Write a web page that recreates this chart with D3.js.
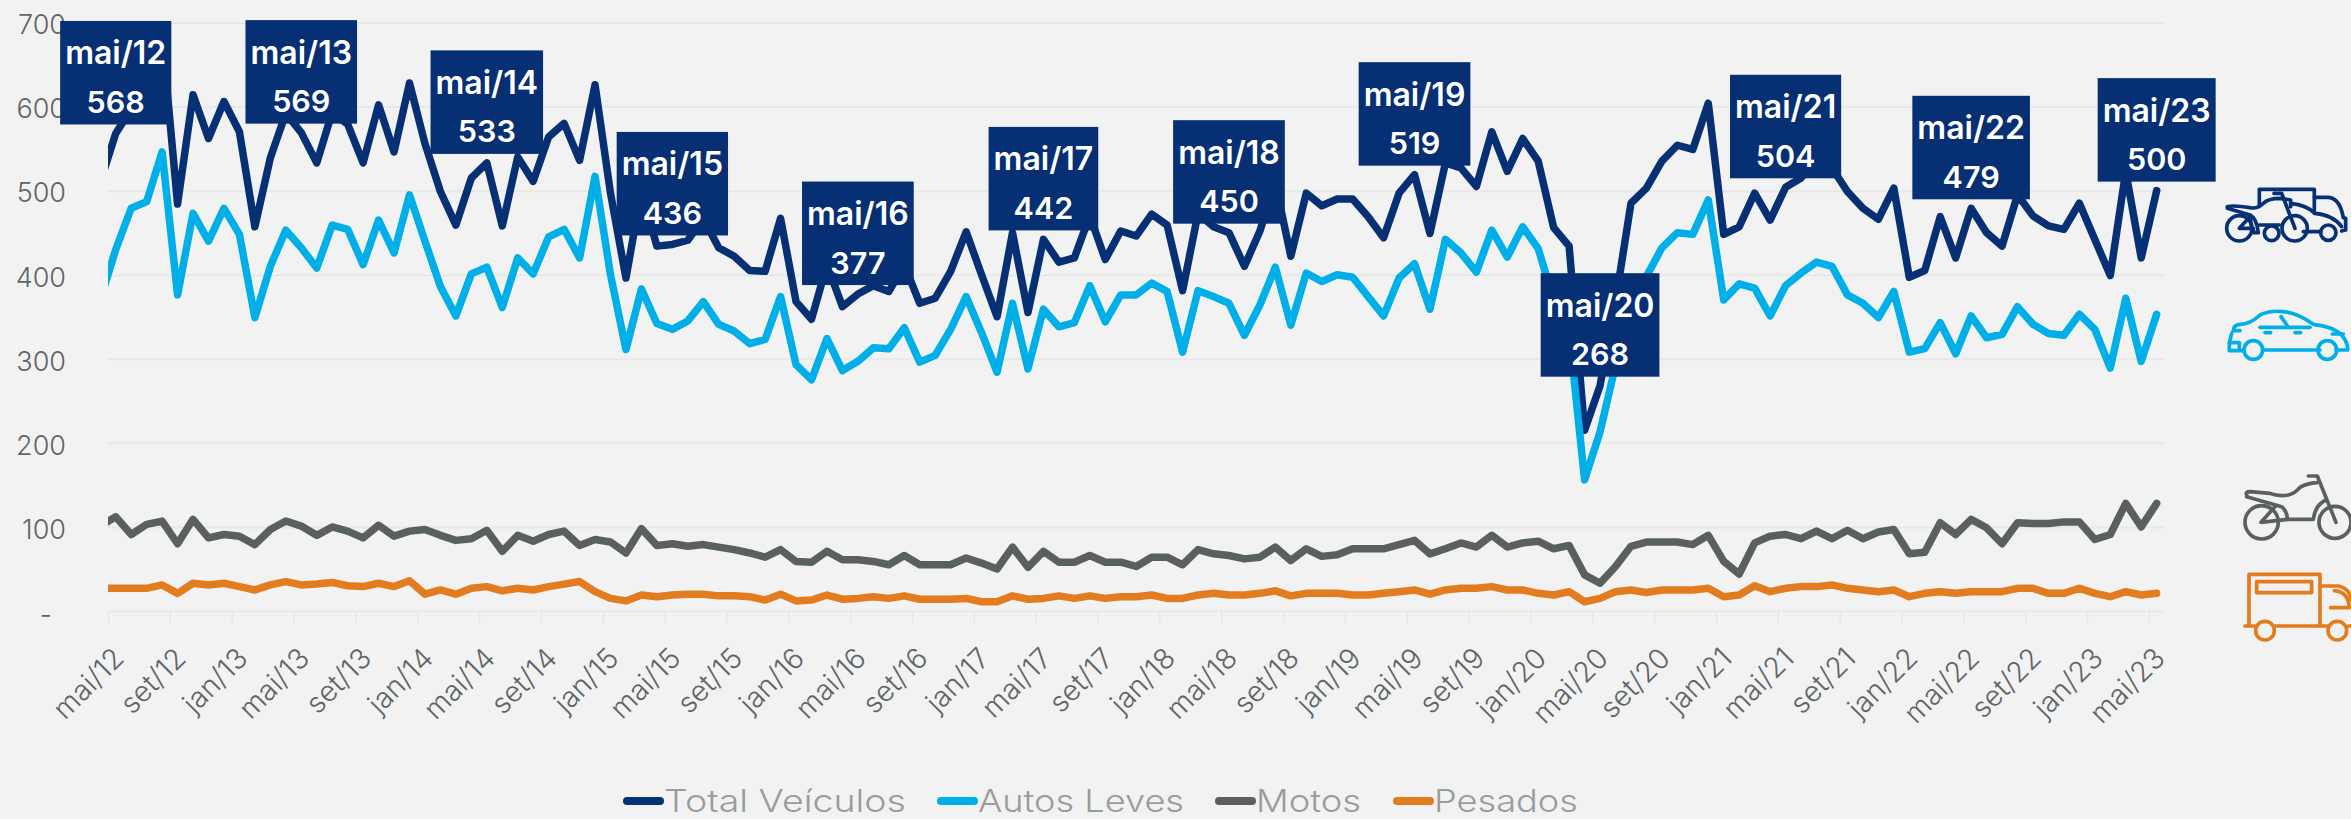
<!DOCTYPE html>
<html lang="pt"><head><meta charset="utf-8"><title>Veículos</title>
<script src="https://cdn.jsdelivr.net/npm/d3@7"></script>
<style>
html,body{margin:0;padding:0;background:#f2f2f2;overflow:hidden}
svg{display:block}
text{font-family:Inter,"Noto Sans",sans-serif}
</style></head><body><svg id="c" width="2351" height="819"></svg>
<script>
const categories=["abr/12",
"mai/12","jun/12","jul/12","ago/12","set/12","out/12","nov/12","dez/12",
"jan/13","fev/13","mar/13","abr/13","mai/13","jun/13","jul/13","ago/13","set/13","out/13","nov/13","dez/13",
"jan/14","fev/14","mar/14","abr/14","mai/14","jun/14","jul/14","ago/14","set/14","out/14","nov/14","dez/14",
"jan/15","fev/15","mar/15","abr/15","mai/15","jun/15","jul/15","ago/15","set/15","out/15","nov/15","dez/15",
"jan/16","fev/16","mar/16","abr/16","mai/16","jun/16","jul/16","ago/16","set/16","out/16","nov/16","dez/16",
"jan/17","fev/17","mar/17","abr/17","mai/17","jun/17","jul/17","ago/17","set/17","out/17","nov/17","dez/17",
"jan/18","fev/18","mar/18","abr/18","mai/18","jun/18","jul/18","ago/18","set/18","out/18","nov/18","dez/18",
"jan/19","fev/19","mar/19","abr/19","mai/19","jun/19","jul/19","ago/19","set/19","out/19","nov/19","dez/19",
"jan/20","fev/20","mar/20","abr/20","mai/20","jun/20","jul/20","ago/20","set/20","out/20","nov/20","dez/20",
"jan/21","fev/21","mar/21","abr/21","mai/21","jun/21","jul/21","ago/21","set/21","out/21","nov/21","dez/21",
"jan/22","fev/22","mar/22","abr/22","mai/22","jun/22","jul/22","ago/22","set/22","out/22","nov/22","dez/22",
"jan/23","fev/23","mar/23","abr/23","mai/23"];
const totalVeiculos=[510,568,597,617,684,484,614,562,606,570,457,539,592,569,533,593,579,533,602,546,628,556,499,459,515,533,458,540,511,564,580,536,626,497,396,500,434,436,441,467,432,422,405,404,467,368,347,412,362,377,387,380,412,366,372,404,451,400,350,450,355,442,415,420,470,418,452,446,472,459,381,473,457,450,410,452,509,422,497,482,490,490,469,444,497,519,449,533,527,505,570,523,562,535,456,434,215,268,368,485,503,535,554,549,604,448,457,497,465,504,515,539,527,499,479,466,503,397,405,469,420,479,450,434,495,470,458,454,485,442,399,523,420,500];
const autosLeves=[370,430,479,487,546,376,473,440,479,448,349,410,453,432,408,459,454,412,465,426,495,440,386,351,401,409,361,420,401,445,454,420,517,400,311,383,342,335,345,368,341,333,318,323,374,293,275,324,286,297,313,312,337,296,304,335,374,331,284,366,288,359,338,343,387,344,376,376,390,380,308,381,374,366,328,364,409,340,402,392,400,397,374,351,396,413,359,442,426,403,453,421,457,431,370,333,156,213,292,385,398,432,450,448,489,370,389,384,351,387,402,415,410,376,366,349,380,308,312,343,306,351,325,329,362,341,330,328,353,335,289,372,297,353];
const motos=[101,112,91,103,107,80,109,87,91,89,79,97,107,101,90,100,95,87,102,89,95,97,90,84,86,96,71,90,83,91,95,78,85,82,69,98,78,80,77,79,76,73,69,64,73,59,58,71,61,61,59,55,66,55,55,55,63,57,50,76,52,71,58,58,66,58,58,53,64,64,55,73,68,66,62,64,76,60,74,65,67,74,74,74,79,84,68,74,81,76,90,76,81,83,74,78,43,33,53,77,82,82,82,79,90,59,44,81,89,91,86,95,86,96,86,94,97,68,70,105,91,109,99,80,105,104,104,106,106,85,91,128,100,128];
const pesados=[27,27,27,27,31,21,33,31,33,29,25,31,35,31,32,34,30,29,33,29,36,20,25,20,27,29,24,27,25,29,32,35,23,15,12,19,17,19,20,20,18,18,17,13,20,12,13,19,14,15,17,15,18,14,14,14,15,11,11,18,14,15,18,15,18,15,17,17,19,15,15,19,21,19,19,21,24,18,21,21,21,19,19,21,23,25,20,25,27,27,29,25,25,21,19,23,11,15,23,25,22,25,25,25,27,17,19,30,23,27,29,29,31,27,25,23,25,17,21,23,21,23,23,23,27,27,21,21,27,21,17,23,19,21];
const seriesNames=["Total Veículos","Autos Leves","Motos","Pesados"];
const seriesColors=["#063073","#00afe8","#5a6060","#e37c1e"];
const tickLabels=["mai/12","set/12","jan/13","mai/13","set/13","jan/14","mai/14","set/14","jan/15","mai/15","set/15","jan/16","mai/16","set/16","jan/17","mai/17","set/17","jan/18","mai/18","set/18","jan/19","mai/19","set/19","jan/20","mai/20","set/20","jan/21","mai/21","set/21","jan/22","mai/22","set/22","jan/23","mai/23"];
const yTicks=[0,100,200,300,400,500,600,700];
const calloutMonths=["mai/12","mai/13","mai/14","mai/15","mai/16","mai/17","mai/18","mai/19","mai/20","mai/21","mai/22","mai/23"];

const svg=d3.select("#c");
const plotL=108,plotR=2164.4,yZero=611,yTop=22.5;
const step=(plotR-plotL)/133;
const x=d3.scalePoint().domain(categories).range([plotL-step/2,plotR-step/2]);
const xEdge=d3.scalePoint().domain(categories).range([plotL-step,plotR-step]);
const y=d3.scaleLinear().domain([0,700]).range([yZero,yTop]);

svg.append("defs").append("clipPath").attr("id","plot").append("rect")
  .attr("x",plotL).attr("y",0).attr("width",plotR-plotL+40).attr("height",819);

// grid + y axis
const gy=svg.append("g").attr("transform",`translate(${plotL},0)`)
  .call(d3.axisLeft(y).tickValues(yTicks).tickSize(-(plotR-plotL)).tickPadding(42).tickFormat(d=>d===0?"-":String(d)));
gy.select(".domain").remove();
gy.selectAll("line").attr("stroke","#e8e8e8").attr("stroke-width",2);
gy.selectAll("text").attr("fill","#5f6566").attr("font-size",27).attr("font-weight",300).attr("dy","0.42em")
  .filter(d=>d===0).attr("dx",-14).attr("dy","0.46em");

// x axis
const gx=svg.append("g").attr("transform",`translate(0,${yZero})`)
  .call(d3.axisBottom(xEdge).tickValues(tickLabels).tickSize(12).tickFormat(""));
gx.select(".domain").remove();
gx.selectAll("line").attr("stroke","#e6e6e6").attr("stroke-width",1.5);
svg.append("g").selectAll("text").data(tickLabels).join("text")
  .attr("transform",d=>`translate(${x(d)+10},660) rotate(-45)`)
  .attr("text-anchor","end").attr("fill","#5f6566").attr("font-size",28.5).attr("font-weight",300).text(d=>d);

// lines
const line=d3.line().x((d,i)=>x(categories[i])).y(d=>y(d)).curve(d3.curveLinear);
svg.append("g").attr("clip-path","url(#plot)").selectAll("path")
  .data([totalVeiculos,autosLeves,motos,pesados]).join("path")
  .attr("d",line).attr("fill","none").attr("stroke",(d,i)=>seriesColors[i])
  .attr("stroke-width",7.5).attr("stroke-linejoin","round").attr("stroke-linecap","round");

// callouts
const boxH=103.5;
const call=svg.append("g").selectAll("g").data(calloutMonths).join("g")
  .attr("transform",d=>`translate(${x(d)},${y(totalVeiculos[categories.indexOf(d)])-9-boxH})`);
const rects=call.append("rect").attr("y",0).attr("height",boxH).attr("fill","#063073");
call.append("text").attr("y",43.5).attr("class","t1").attr("text-anchor","middle").attr("fill","#fff")
  .attr("font-size",32).attr("font-weight",600).text(d=>d);
call.append("text").attr("y",92).attr("text-anchor","middle").attr("fill","#fff")
  .attr("font-size",30.5).attr("font-weight",600).text(d=>totalVeiculos[categories.indexOf(d)]);
call.each(function(){
  const g=d3.select(this),w=g.select(".t1").node().getComputedTextLength()+10;
  g.select("rect").attr("x",-w/2).attr("width",w);
});

// legend
const legendX=[623,937,1215,1393];
const legendW=[242,206,105,144];
const lg=svg.append("g").selectAll("g").data(seriesNames).join("g")
  .attr("transform",(d,i)=>`translate(${legendX[i]},0)`);
lg.append("line").attr("x1",4).attr("x2",37).attr("y1",801).attr("y2",801)
  .attr("stroke",(d,i)=>seriesColors[i]).attr("stroke-width",8).attr("stroke-linecap","round");
lg.append("text").attr("x",41).attr("y",811.5).attr("fill","#979c9d").attr("font-size",31).attr("font-weight",300)
  .attr("textLength",(d,i)=>legendW[i]).attr("lengthAdjust","spacingAndGlyphs").text(d=>d);

// icons
function icon(ox,oy,color,paths,circles){
  const g=svg.append("g").attr("transform",`translate(${ox},${oy}) scale(0.3333)`)
    .attr("fill","none").attr("stroke",color).attr("stroke-width",11).attr("stroke-linecap","round").attr("stroke-linejoin","round");
  g.selectAll("path").data(paths).join("path").attr("d",d=>d);
  g.selectAll("circle").data(circles).join("circle").attr("cx",d=>d[0]).attr("cy",d=>d[1]).attr("r",d=>d[2]);
}
icon(2200,170,seriesColors[0],[
 "M178,108V58H343V130","M343,82H385Q420,85 430,143L437,145V180L425,183",
 "M82,110Q100,105 150,113Q170,118 190,100Q205,85 240,85L272,90V110","M222,70H245L285,175",
 "M272,100Q320,105 345,130Q400,135 425,170","M82,115L150,135Q170,145 175,188H160V175H118L150,140L155,175",
 "M238,165H178","M310,185H362"
],[[118,175,38],[284,175,38],[215,190,22],[385,188,23]]);
icon(2200,170,seriesColors[1],[
 "M100,482Q100,465 120,463Q150,463 180,435Q210,420 250,425Q290,428 340,463Q400,470 425,495Q445,520 443,540H408",
 "M360,540H190","M132,542H88V520L95,490","M180,472H330","M243,440L265,472","M195,488H212","M285,488H302","M397,492H430","M100,482H120","M88,518H118V540"
],[[160,540,28],[382,540,28]]);
icon(2200,460,seriesColors[2],[
 "M140,105Q135,95 150,95L210,100Q235,110 265,105Q285,100 300,82Q320,70 352,68","M325,48H352L408,187",
 "M140,110L245,140Q262,155 262,178L183,187L225,140","M262,178H340Q345,135 378,120"
],[[185,187,50],[405,187,48]]);
icon(2200,460,seriesColors[3],[
 "M147,495V343H360V495","M170,365H335V398H170Z","M360,378H415Q450,385 453,420","M403,392Q445,395 448,443H392",
 "M135,498H165","M225,498H382","M445,498H453"
],[[195,512,28],[412,512,28]]);
</script></body></html>
